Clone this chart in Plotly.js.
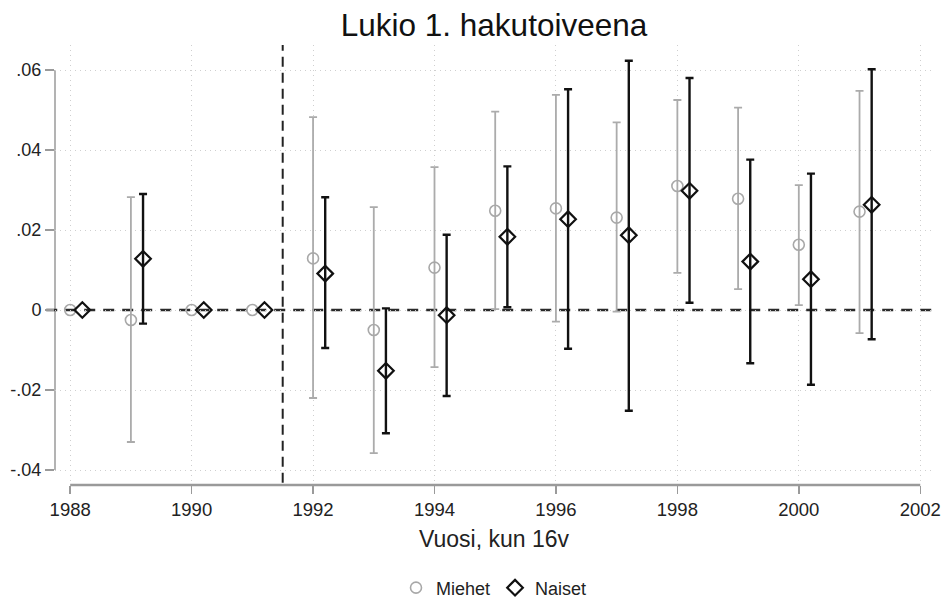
<!DOCTYPE html>
<html>
<head>
<meta charset="utf-8">
<script src="https://cdn.plot.ly/plotly-3.0.1.min.js"></script>
<style>html,body{margin:0;padding:0;background:#fff;}#chart{width:944px;height:600px;}</style>
</head>
<body>
<div id="chart"></div>
<script>
// ---- data ----
const years = [1988, 1989, 1990, 1991, 1992, 1993, 1994, 1995, 1996, 1997, 1998, 1999, 2000, 2001];

const miehetEst   = [0, -0.0025, 0, 0, 0.0129, -0.0050, 0.0106, 0.0248, 0.0254, 0.0231, 0.0310, 0.0278, 0.0163, 0.0246];
const miehetUpper = [null, 0.0282, null, null, 0.0482, 0.0257, 0.0357, 0.0496, 0.0538, 0.0469, 0.0525, 0.0506, 0.0312, 0.0548];
const miehetLower = [null, -0.0330, null, null, -0.0220, -0.0358, -0.0143, 0.0002, -0.0029, -0.0004, 0.0093, 0.0052, 0.0012, -0.0058];

const naisetEst   = [0, 0.0128, 0, 0, 0.0091, -0.0152, -0.0013, 0.0183, 0.0227, 0.0187, 0.0298, 0.0121, 0.0077, 0.0263];
const naisetUpper = [null, 0.0290, null, null, 0.0282, 0.0004, 0.0188, 0.0359, 0.0552, 0.0623, 0.0580, 0.0376, 0.0341, 0.0602];
const naisetLower = [null, -0.0034, null, null, -0.0095, -0.0308, -0.0215, 0.0007, -0.0097, -0.0252, 0.0018, -0.0133, -0.0187, -0.0073];

const xTickVals = [1988, 1990, 1992, 1994, 1996, 1998, 2000, 2002];
const yTickVals = [-0.04, -0.02, 0, 0.02, 0.04, 0.06];
const yTickText = ['-.04', '-.02', '0', '.02', '.04', '.06'];
const reformYear = 1991.5;

// ---- helpers ----
const plus  = (est, up)  => est.map((v, i) => up[i]  === null ? NaN : up[i] - v);
const minus = (est, low) => est.map((v, i) => low[i] === null ? NaN : v - low[i]);
const naisetX = years.map(y => y + 0.2);

const FONT = 'Liberation Sans, Arial, sans-serif';

const traces = [
  {
    name: 'Miehet', type: 'scatter', mode: 'markers',
    x: years, y: miehetEst,
    marker: {symbol: 'circle-open', size: 11, color: '#a8a8a8', line: {width: 1.6, color: '#a8a8a8'}},
    error_y: {type: 'data', symmetric: false, array: plus(miehetEst, miehetUpper), arrayminus: minus(miehetEst, miehetLower),
              color: '#ababab', thickness: 1.8, width: 4}
  },
  {
    name: 'Naiset', type: 'scatter', mode: 'markers',
    x: naisetX, y: naisetEst,
    marker: {symbol: 'diamond-open', size: 12, color: '#111', line: {width: 2.2, color: '#111'}},
    error_y: {type: 'data', symmetric: false, array: plus(naisetEst, naisetUpper), arrayminus: minus(naisetEst, naisetLower),
              color: '#111', thickness: 2.4, width: 4}
  }
];

const layout = {
  width: 944, height: 600,
  paper_bgcolor: '#fff', plot_bgcolor: '#fff',
  margin: {l: 55, r: 11, t: 45, b: 115, autoexpand: false},
  font: {family: FONT, color: '#222'},
  title: {text: 'Lukio 1. hakutoiveena', font: {family: FONT, size: 31.5, color: '#111'},
          x: 0.5, xref: 'paper', xanchor: 'center', y: 0.958, yref: 'container', yanchor: 'middle'},
  xaxis: {
    range: [1987.75, 2002.21], tickvals: xTickVals, ticktext: xTickVals.map(String),
    showgrid: true, gridcolor: '#cfcfcf', griddash: '1px,4px', gridwidth: 1,
    ticks: 'outside', ticklen: 8, tickwidth: 1.5, tickcolor: '#9a9a9a',
    tickfont: {size: 18.5, color: '#222'},
    showline: false, zeroline: false, automargin: false,
    title: {text: 'Vuosi, kun 16v', font: {size: 23, color: '#222'}, standoff: 11}
  },
  yaxis: {
    range: [-0.04375, 0.06625], tickvals: yTickVals, ticktext: yTickText,
    showgrid: true, gridcolor: '#cfcfcf', griddash: '1px,4px', gridwidth: 1,
    ticks: 'outside', ticklen: 9, tickwidth: 1.5, tickcolor: '#9a9a9a',
    tickfont: {size: 18, color: '#222'},
    showline: false, zeroline: false, automargin: false
  },
  shapes: [
    {type: 'line', layer: 'below', xref: 'paper', x0: 0, x1: 0, yref: 'y', y0: yTickVals[0], y1: yTickVals[yTickVals.length - 1],
     line: {color: '#9a9a9a', width: 1.5}},
    {type: 'line', layer: 'below', xref: 'x', x0: xTickVals[0], x1: xTickVals[xTickVals.length - 1], yref: 'paper', y0: 0, y1: 0,
     line: {color: '#9a9a9a', width: 2.5}},
    {type: 'line', layer: 'below', xref: 'paper', x0: 0.003, x1: 1, yref: 'y', y0: 0, y1: 0,
     line: {color: '#fff', width: 3}},
    {type: 'line', layer: 'below', xref: 'paper', x0: -0.01, x1: 1, yref: 'y', y0: 0, y1: 0,
     line: {color: '#2a2a2a', width: 2.6, dash: '11px,8px'}},
    {type: 'line', layer: 'below', xref: 'x', x0: reformYear, x1: reformYear, yref: 'paper', y0: 0.005, y1: 1,
     line: {color: '#222', width: 2, dash: '10px,6px'}}
  ],
  showlegend: true,
  legend: {orientation: 'h', x: 0.5, xanchor: 'center', y: -0.234, yanchor: 'middle',
           font: {size: 18, color: '#222'}, itemwidth: 30, bgcolor: 'rgba(0,0,0,0)'}
};

Plotly.newPlot('chart', traces, layout, {displayModeBar: false, staticPlot: true});
</script>
</body>
</html>
